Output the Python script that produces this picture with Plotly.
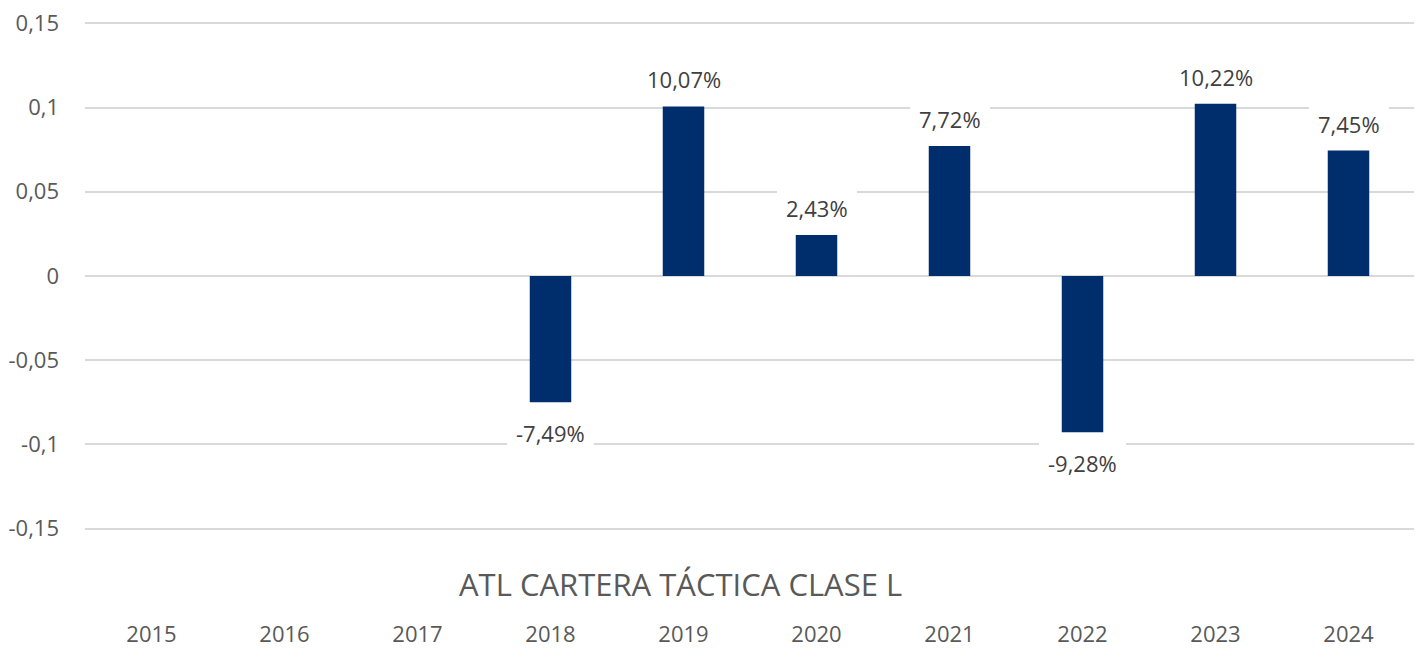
import plotly.graph_objects as go

years = ["2015", "2016", "2017", "2018", "2019", "2020", "2021", "2022", "2023", "2024"]
returns = [None, None, None, -0.0749, 0.1007, 0.0243, 0.0772, -0.0928, 0.1022, 0.0745]
labels = [None, None, None, "-7,49%", "10,07%", "2,43%", "7,72%", "-9,28%", "10,22%", "7,45%"]
y_ticks = [0.15, 0.1, 0.05, 0, -0.05, -0.1, -0.15]
y_tick_text = ["0,15", "0,1", "0,05", "0", "-0,05", "-0,1", "-0,15"]
title_text = "ATL CARTERA TÁCTICA CLASE L"

FONT = "Open Sans"
BAR = "#002E6D"

fig = go.Figure()
fig.add_trace(go.Bar(x=years, y=returns, marker=dict(color=BAR, line=dict(width=0)),
                     hoverinfo="skip"))

for i, (v, t) in enumerate(zip(returns, labels)):
    if v is None:
        continue
    fig.add_annotation(x=i, y=v, text=t, showarrow=False, xref="x", yref="y",
                       yanchor="middle", yshift=27 if v >= 0 else -31,
                       bgcolor="white", borderpad=9, borderwidth=0,
                       font=dict(family=FONT, size=22, color="#404040"))

fig.add_annotation(x=0.448, y=-0.101, xref="paper", yref="paper", text=title_text,
                   showarrow=False, xanchor="center", yanchor="middle",
                   font=dict(family=FONT, size=31, color="#595959"))

fig.update_layout(
    width=1414, height=642,
    margin=dict(l=77, r=7, t=12, b=118, autoexpand=False),
    paper_bgcolor="white", plot_bgcolor="white",
    bargap=0.688, showlegend=False,
    font=dict(family=FONT, color="#595959", size=22),
)
fig.update_xaxes(type="category", categoryorder="array", categoryarray=years,
                 range=[-0.5, len(years) - 0.5], autorange=False, automargin=False,
                 showgrid=False, showline=False, ticks="",
                 ticklabelstandoff=87, ticklabeloverflow="allow",
                 tickfont=dict(family=FONT, size=22, color="#595959"))
fig.update_yaxes(range=[-0.152, 0.152], autorange=False, automargin=False,
                 tickvals=y_ticks, ticktext=y_tick_text,
                 showgrid=True, gridcolor="#D9D9D9", gridwidth=2, zeroline=False,
                 showline=False, ticks="", ticklabelstandoff=25,
                 ticklabeloverflow="allow",
                 tickfont=dict(family=FONT, size=22, color="#595959"))

fig.write_html("out.html")
